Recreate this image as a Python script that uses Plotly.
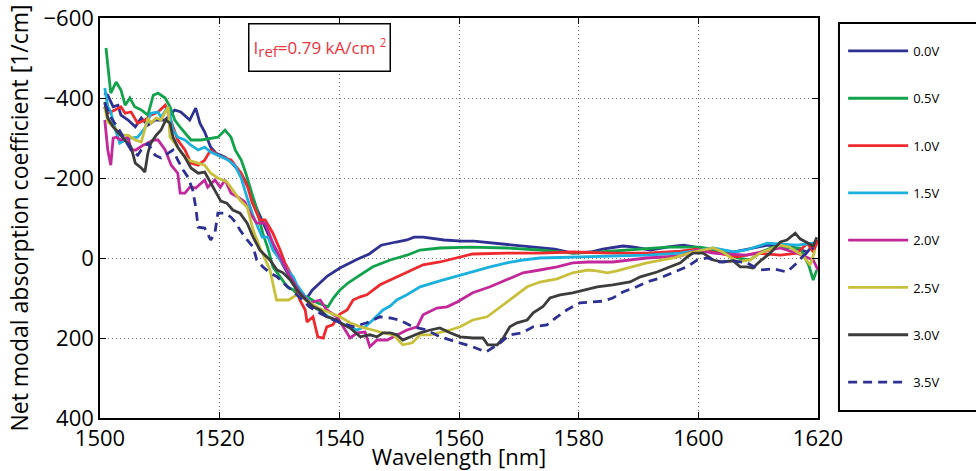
import plotly.graph_objects as go

# ---------------- data (wavelength [nm], net modal absorption [1/cm]) ----------------
series_names = ["0.0V", "0.5V", "1.0V", "1.5V", "2.0V", "2.5V", "3.0V", "3.5V"]

v00 = [(1500.7,-412),(1501.3,-407),(1502.2,-378),(1503.0,-382),(1503.5,-357),(1504.7,-345),(1505.9,-328),
       (1506.9,-350),(1508.0,-332),(1509.2,-345),(1510.9,-345),(1512.5,-370),(1513.5,-365),(1515.0,-345),
       (1516.0,-375),(1516.7,-337),(1517.5,-315),(1518.5,-277),(1519.4,-262),(1520.9,-252),(1521.9,-240),
       (1523.1,-220),(1524.2,-195),(1525.2,-162),(1526.1,-127),(1527.5,-80),(1529.0,-30),(1530.5,15),
       (1532.0,55),(1533.5,90),(1534.5,102),(1535.5,80),(1536.3,68),(1538.0,45),(1540.1,25),(1543.0,3),
       (1545.0,-10),(1547.0,-32),(1549.5,-40),(1551.3,-45),(1552.5,-52),(1554.0,-52),(1557.5,-45),
       (1560.5,-42),(1562.5,-42),(1565.0,-38),(1568.0,-35),(1572.0,-27),(1576.0,-22),(1579.0,-12),
       (1582.0,-15),(1584.0,-22),(1587.4,-30),(1589.0,-28),(1592.0,-20),(1595.0,-28),(1597.5,-32),
       (1600.3,-25),(1603.0,-18),(1605.8,-15),(1608.0,-22),(1611.5,-32),(1614.0,-28),(1615.8,-27),
       (1618.2,-15),(1619.8,-45)]

v05 = [(1501.0,-525),(1501.8,-412),(1502.7,-440),(1503.5,-420),(1504.2,-382),(1505.0,-400),(1505.8,-378),
       (1506.9,-370),(1508.0,-357),(1508.9,-407),(1509.7,-412),(1510.9,-400),(1511.7,-378),(1512.5,-345),
       (1513.5,-325),(1515.2,-295),(1516.9,-295),(1518.5,-300),(1519.7,-302),(1520.9,-320),(1521.9,-302),
       (1522.6,-270),(1523.6,-245),(1524.3,-215),(1525.2,-170),(1526.2,-122),(1527.2,-62),(1528.0,-27),
       (1528.9,22),(1530.1,47),(1531.3,72),(1532.3,80),(1533.4,97),(1534.6,97),(1536.3,112),(1538.1,122),
       (1539.0,100),(1540.1,80),(1541.5,62),(1543.0,47),(1545.6,22),(1548.5,5),(1551.3,-7),(1553.5,-20),
       (1556.8,-25),(1562.0,-27),(1568.0,-25),(1573.5,-20),(1579.0,-12),(1583.6,-15),(1589.0,-20),
       (1594.8,-27),(1600.3,-27),(1604.8,-15),(1606.5,0),(1608.6,5),(1610.5,-15),(1612.5,-27),
       (1617.0,-25),(1618.5,20),(1619.2,55),(1619.8,30)]

v10 = [(1500.7,-378),(1501.3,-362),(1502.5,-370),(1503.5,-378),(1504.2,-362),(1505.2,-365),(1506.3,-337),
       (1507.5,-345),(1508.5,-357),(1509.7,-365),(1510.9,-382),(1511.4,-365),(1512.2,-328),(1513.0,-295),
       (1514.2,-270),(1515.2,-237),(1516.4,-232),(1517.5,-245),(1518.5,-270),(1519.7,-257),(1520.9,-250),
       (1521.9,-245),(1523.6,-212),(1524.7,-177),(1525.4,-140),(1526.7,-95),(1527.6,-95),(1528.9,-62),
       (1530.1,-20),(1530.9,12),(1531.8,37),(1532.6,72),(1533.4,105),(1534.3,130),(1534.6,160),(1535.6,147),
       (1536.4,197),(1537.3,200),(1537.9,172),(1538.9,167),(1540.1,140),(1541.3,130),(1542.3,105),
       (1543.5,97),(1544.6,92),(1546.8,67),(1548.5,55),(1551.3,35),(1554.0,17),(1556.8,10),(1559.7,0),
       (1562.3,-10),(1568.0,-12),(1573.5,-12),(1579.0,-15),(1585.7,-12),(1591.4,-12),(1597.0,-17),
       (1599.8,-22),(1602.5,-15),(1606.5,-3),(1609.8,-12),(1613.7,-7),(1616.5,-12),(1618.2,-37),
       (1619.2,-15),(1620.0,-45)]

v15 = [(1500.8,-425),(1501.3,-378),(1501.8,-365),(1502.5,-325),(1503.3,-287),(1504.2,-295),(1505.2,-300),
       (1506.3,-302),(1507.5,-325),(1508.5,-362),(1509.7,-365),(1510.2,-352),(1511.4,-378),(1512.2,-320),
       (1513.0,-302),(1514.2,-295),(1515.2,-282),(1516.4,-270),(1517.5,-277),(1518.5,-265),(1519.7,-257),
       (1521.4,-245),(1522.6,-230),(1523.6,-200),(1524.6,-150),(1525.6,-105),(1527.1,-52),(1528.1,-52),
       (1528.9,-20),(1530.1,5),(1531.3,30),(1532.3,47),(1532.9,67),(1534.5,100),(1536.0,125),(1538.0,145),
       (1540.1,162),(1542.9,180),(1544.3,172),(1545.6,155),(1547.3,130),(1548.5,120),(1549.6,105),
       (1551.3,92),(1553.5,72),(1556.8,57),(1559.7,45),(1562.3,33),(1565.2,22),(1568.0,12),(1570.7,5),
       (1573.5,0),(1579.0,-2),(1585.7,-5),(1591.4,-7),(1597.0,-12),(1602.5,-25),(1606.0,-15),(1608.0,-20),
       (1611.5,-37),(1613.7,-35),(1616.5,-32),(1619.2,-37)]

v20 = [(1500.8,-345),(1501.3,-270),(1501.8,-232),(1502.2,-300),(1502.7,-302),(1503.5,-295),(1504.7,-302),
       (1505.2,-270),(1506.0,-270),(1507.2,-282),(1508.0,-287),(1508.9,-295),(1509.7,-295),(1510.9,-270),
       (1511.9,-232),(1513.0,-212),(1513.4,-162),(1514.2,-162),(1515.0,-177),(1516.0,-175),(1517.5,-195),
       (1518.0,-177),(1519.2,-195),(1520.1,-177),(1520.9,-195),(1521.9,-162),(1523.1,-152),(1524.2,-140),
       (1525.1,-112),(1526.2,-87),(1527.6,-87),(1528.9,-37),(1530.6,12),(1531.8,47),(1533.4,87),
       (1535.1,112),(1536.8,105),(1537.9,130),(1539.6,147),(1540.6,172),(1541.8,200),(1543.0,187),
       (1544.3,185),(1545.1,222),(1546.3,205),(1548.0,205),(1549.6,192),(1551.3,180),(1553.0,172),
       (1554.0,142),(1556.3,125),(1558.0,122),(1559.7,110),(1562.3,87),(1565.2,72),(1568.0,55),
       (1570.7,37),(1573.5,30),(1576.4,22),(1579.0,12),(1581.6,10),(1585.7,10),(1591.4,0),(1597.0,-5),
       (1599.8,-20),(1602.5,-12),(1608.1,-7),(1613.7,-25),(1616.5,-12),(1619.2,5),(1620.0,30)]

v25 = [(1500.8,-378),(1501.3,-340),(1502.5,-325),(1503.5,-307),(1504.7,-307),(1505.9,-295),(1506.9,-290),
       (1508.0,-350),(1508.5,-337),(1509.4,-350),(1510.2,-345),(1511.4,-378),(1511.7,-302),(1512.5,-287),
       (1513.5,-265),(1514.7,-245),(1516.4,-237),(1517.5,-232),(1518.5,-212),(1519.7,-200),(1521.2,-190),
       (1522.2,-170),(1523.4,-145),(1524.6,-127),(1525.6,-70),(1526.7,-27),(1528.4,30),(1529.5,105),
       (1531.5,105),(1532.9,92),(1534.0,100),(1535.1,112),(1536.5,125),(1538.4,137),(1540.1,147),
       (1541.8,162),(1543.5,172),(1545.6,180),(1547.3,187),(1549.0,192),(1550.6,217),(1552.2,212),
       (1553.5,192),(1555.2,192),(1556.8,187),(1558.5,180),(1560.2,172),(1562.3,155),(1564.7,147),
       (1566.9,122),(1569.0,97),(1571.4,72),(1573.5,60),(1576.4,52),(1579.0,37),(1581.6,30),(1583.0,32),
       (1584.8,37),(1586.4,32),(1591.4,12),(1595.8,0),(1599.1,-15),(1602.5,-25),(1604.1,-15),(1606.5,10),
       (1608.6,5),(1610.3,-12),(1613.7,-32),(1615.3,-27),(1617.5,-5),(1618.7,17),(1619.5,-20)]

v30 = [(1500.8,-390),(1501.3,-350),(1502.2,-328),(1503.0,-315),(1504.2,-295),(1505.2,-277),(1505.9,-237),
       (1506.9,-225),(1507.5,-215),(1508.0,-262),(1508.5,-287),(1509.4,-307),(1510.2,-320),(1511.0,-345),
       (1511.7,-337),(1512.2,-302),(1513.0,-277),(1514.2,-252),(1515.2,-225),(1516.4,-212),(1517.5,-215),
       (1518.5,-187),(1519.4,-162),(1520.2,-142),(1521.2,-137),(1522.2,-120),(1523.4,-112),(1524.6,-87),
       (1525.6,-52),(1526.7,-20),(1528.4,5),(1529.6,30),(1530.6,37),(1531.8,55),(1532.9,80),(1533.9,97),
       (1535.6,122),(1536.8,130),(1537.9,147),(1539.6,155),(1540.1,162),(1541.8,175),(1543.5,197),
       (1545.1,192),(1546.3,197),(1547.3,187),(1548.5,187),(1549.6,192),(1550.6,205),(1551.8,197),
       (1553.5,187),(1555.2,180),(1556.8,175),(1558.5,187),(1560.2,197),(1562.3,200),(1564.0,200),
       (1564.8,217),(1566.4,217),(1567.4,200),(1568.5,172),(1569.7,162),(1571.4,155),(1572.4,137),
       (1574.0,122),(1575.2,100),(1576.9,92),(1579.0,87),(1580.7,80),(1583.1,72),(1585.7,67),(1588.6,60),
       (1590.3,47),(1593.1,35),(1595.3,22),(1597.0,12),(1598.1,-2),(1599.1,-12),(1600.8,-12),(1602.5,5),
       (1604.1,10),(1605.8,7),(1607.0,22),(1608.1,22),(1609.1,25),(1610.3,8),(1612.0,-12),(1613.7,-40),
       (1614.8,-45),(1616.2,-62),(1617.0,-48),(1618.2,-37),(1619.2,-30),(1619.8,-52)]

v35 = [(1500.8,-387),(1501.8,-352),(1503.0,-325),(1504.2,-295),(1505.2,-270),(1506.3,-257),(1506.9,-270),
       (1508.0,-287),(1509.2,-257),(1510.2,-250),(1511.4,-262),(1512.2,-270),(1513.0,-245),(1513.9,-220),
       (1514.7,-202),(1515.5,-170),(1516.0,-127),(1516.4,-77),(1517.5,-75),(1518.5,-45),(1519.2,-62),
       (1519.7,-112),(1520.9,-112),(1521.9,-102),(1522.6,-90),(1523.4,-70),(1524.6,-45),(1525.6,-27),
       (1526.2,5),(1527.2,22),(1528.4,37),(1529.6,47),(1530.6,62),(1532.0,80),(1533.5,100),(1535.0,122),
       (1537.0,140),(1539.0,155),(1541.0,165),(1542.3,172),(1544.6,162),(1546.8,147),(1548.5,150),
       (1550.1,155),(1552.3,172),(1554.6,180),(1556.8,197),(1559.7,210),(1562.3,222),(1564.5,235),
       (1566.9,212),(1568.5,192),(1570.5,187),(1572.4,172),(1574.7,167),(1576.4,147),(1578.0,130),
       (1580.2,112),(1582.0,110),(1584.0,108),(1585.7,100),(1587.4,85),(1589.7,72),(1591.4,60),
       (1593.6,50),(1595.8,37),(1598.1,22),(1599.8,5),(1601.5,0),(1603.6,10),(1605.8,7),(1608.1,12),
       (1610.3,30),(1612.5,27),(1614.8,35),(1616.5,12),(1617.5,-5),(1619.2,-25)]

series_data = [v00, v05, v10, v15, v20, v25, v30, v35]
series_colors = ["#2e3192", "#12a24b", "#ee2a2e", "#1cb0de", "#c2289a", "#c8c03c", "#3c3c3c", "#2e3192"]
series_dash = ["solid"] * 7 + ["9px,6px"]

x_ticks = [1500, 1520, 1540, 1560, 1580, 1600, 1620]
y_ticks = [-600, -400, -200, 0, 200, 400]

FONT = "Open Sans"

fig = go.Figure()
for i, (name, pts) in enumerate(zip(series_names, series_data)):
    fig.add_trace(go.Scatter(
        x=[p[0] for p in pts], y=[p[1] for p in pts], mode="lines", name=name,
        legendgroup="g%d" % i,
        line=dict(color=series_colors[i], width=2.8, dash=series_dash[i]),
    ))

axis_common = dict(
    showline=True, linecolor="black", linewidth=1.5, mirror="ticks",
    ticks="inside", ticklen=6, tickcolor="black",
    showgrid=True, gridcolor="#7a7a7a", griddash="1px,3px", gridwidth=1,
    zeroline=False, tickfont=dict(family=FONT, size=22, color="black"),
    automargin=False,
)

fig.update_xaxes(range=[1500, 1620], tickvals=x_ticks,
                 title=dict(text="Wavelength [nm]", font=dict(family=FONT, size=22, color="black"), standoff=0),
                 **axis_common)
fig.update_yaxes(range=[400, -600], tickvals=y_ticks,
                 title=dict(text="Net modal absorption coefficient [1/cm]",
                            font=dict(family=FONT, size=23, color="black"), standoff=8),
                 **axis_common)

# legend frame (extends past the right edge as in the reference)
fig.add_shape(type="rect", xref="paper", yref="paper", x0=1.0292, x1=1.23, y0=0.0175, y1=0.9875,
              line=dict(color="black", width=2), fillcolor="rgba(0,0,0,0)")

fig.add_annotation(
    xref="paper", yref="paper", x=0.206, y=0.9875, xanchor="left", yanchor="top",
    text="I<sub><span style='font-size:15px'>ref</span></sub>=0.79 kA/cm <sup>2</sup>", showarrow=False,
    font=dict(family=FONT, size=17, color="#ee3340"),
    bordercolor="black", borderwidth=1.5, borderpad=4, bgcolor="white",
    width=132, height=38, align="left",
)

fig.update_layout(
    width=976, height=471,
    margin=dict(l=100, r=158, t=18, b=53),
    paper_bgcolor="white", plot_bgcolor="white",
    font=dict(family=FONT, color="black"),
    legend=dict(x=1.035, xanchor="left", y=0.955, yanchor="top",
                font=dict(family=FONT, size=13, color="black"),
                bgcolor="rgba(0,0,0,0)", borderwidth=0,
                traceorder="grouped", tracegroupgap=27.4, itemwidth=60),
)

fig.write_html("out.html", config={"displayModeBar": False},
               post_script="document.body.style.margin='0';document.body.style.overflow='hidden';")
